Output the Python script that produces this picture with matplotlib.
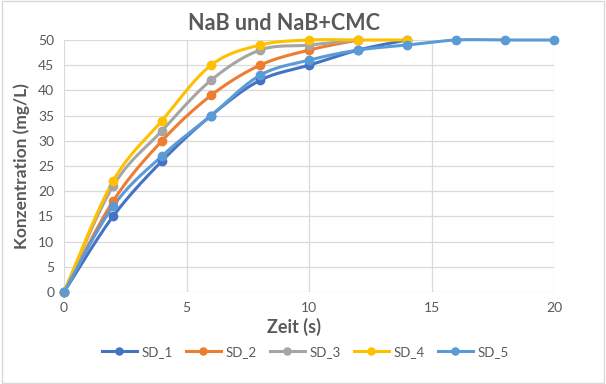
import numpy as np
import matplotlib.pyplot as plt

# ----------------------------
# Daten
# ----------------------------
names = ["SD_1", "SD_2", "SD_3", "SD_4", "SD_5"]
x_sd1 = [0, 2, 4, 6, 8, 10, 12, 14]
y_sd1 = [0, 15, 26, 35, 42, 45, 48, 50]
x_sd2 = [0, 2, 4, 6, 8, 10, 12]
y_sd2 = [0, 18, 30, 39, 45, 48, 50]
x_sd3 = [0, 2, 4, 6, 8, 10, 12]
y_sd3 = [0, 21, 32, 42, 48, 49, 50]
x_sd4 = [0, 2, 4, 6, 8, 10, 12, 14]
y_sd4 = [0, 22, 34, 45, 49, 50, 50, 50]
x_sd5 = [0, 2, 4, 6, 8, 10, 12, 14, 16, 18, 20]
y_sd5 = [0, 17, 27, 35, 43, 46, 48, 49, 50, 50, 50]

colors = ["#4472C4", "#ED7D31", "#A5A5A5", "#FFC000", "#5B9BD5"]
series = [(x_sd1, y_sd1), (x_sd2, y_sd2), (x_sd3, y_sd3), (x_sd4, y_sd4), (x_sd5, y_sd5)]


# Glatte Linie wie in Excel (Catmull-Rom)
def smooth(xs, ys, n=20):
    p = np.column_stack([xs, ys]).astype(float)
    p = np.vstack([p[0], p, p[-1]])
    out = []
    for i in range(1, len(p) - 2):
        p0, p1, p2, p3 = p[i - 1], p[i], p[i + 1], p[i + 2]
        t = np.linspace(0, 1, n)[:, None]
        c = 0.5 * ((2 * p1) + (-p0 + p2) * t + (2 * p0 - 5 * p1 + 4 * p2 - p3) * t**2
                   + (-p0 + 3 * p1 - 3 * p2 + p3) * t**3)
        out.append(c)
    c = np.vstack(out)
    return c[:, 0], c[:, 1]


plt.rcParams['font.family'] = ['Lato', 'DejaVu Sans']
txt = "#595959"

fig = plt.figure(figsize=(6.06, 3.84), dpi=100)
ax = fig.add_axes([64 / 606, 92 / 384, 490 / 606, 252 / 384])

for name, (xs, ys), col in zip(names, series, colors):
    sx, sy = smooth(xs, ys)
    ax.plot(sx, sy, '-', color=col, lw=2.2, zorder=2, clip_on=False)
    ax.plot(xs, ys, 'o', color=col, ms=6, zorder=3, clip_on=False)
    ax.plot([], [], '-o', color=col, lw=2.2, ms=6, label=name)

ax.set_xlim(0, 20)
ax.set_ylim(0, 50)
ax.set_xticks(range(0, 21, 5))
ax.set_yticks(range(0, 51, 5))
ax.grid(True, color="#D9D9D9", lw=0.9)
ax.set_axisbelow(True)
for s in ax.spines.values():
    s.set_visible(False)
ax.tick_params(length=0, labelsize=10, colors=txt, pad=7)
for lab in ax.get_xticklabels() + ax.get_yticklabels():
    lab.set_color(txt)

fig.text(284 / 606, 1 - 24 / 384, "NaB und NaB+CMC", fontsize=15.5, fontweight='bold',
         color=txt, ha='center', va='center')
fig.text(294 / 606, 1 - 327 / 384, "Zeit (s)", fontsize=13, fontweight='bold',
         color=txt, ha='center', va='center')
ax.set_ylabel("Konzentration (mg/L)", fontsize=12.5, fontweight='bold', color=txt, labelpad=6)

leg = ax.legend(loc='center', bbox_to_anchor=(305 / 606, 1 - 352 / 384),
                bbox_transform=fig.transFigure, ncol=5, frameon=False,
                fontsize=9.5, handlelength=2.7, columnspacing=1.0, handletextpad=0.3,
                markerscale=0.85)
for t in leg.get_texts():
    t.set_color(txt)

fig.patches.append(plt.Rectangle((0.003, 0.003), 0.994, 0.994, transform=fig.transFigure,
                                 fill=False, edgecolor="#D9D9D9", lw=1))

plt.savefig("out.png", dpi=100)
